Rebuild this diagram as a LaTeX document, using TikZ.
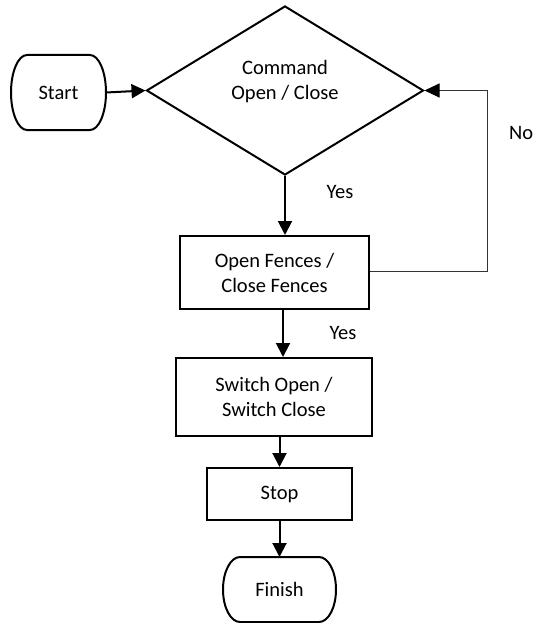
\documentclass[tikz,border=0pt]{standalone}
\usepackage{fontspec}
\setmainfont{Carlito}
\usetikzlibrary{arrows.meta,shapes.geometric}
\newcommand\drawterm[3]{%
  \draw[line width=2pt] ([xshift=#2]#1.north west) -- ([xshift=-#2]#1.north east)
    arc[start angle=90,end angle=-90,x radius=#2,y radius=#3]
    -- ([xshift=#2]#1.south west)
    arc[start angle=270,end angle=90,x radius=#2,y radius=#3] -- cycle;}
\begin{document}
\begin{tikzpicture}[x=1pt,y=-1pt,
  font=\fontsize{20.5pt}{25pt}\selectfont,
  boxnode/.style={draw, line width=2pt, rectangle, align=center, inner sep=0pt},
  decnode/.style={draw, line width=2pt, diamond, inner sep=0pt},
  termnode/.style={align=center, inner sep=0pt, outer sep=0pt},
  txt/.style={align=center, inner sep=0pt},
  arr/.style={line width=2pt, -{Triangle[length=14pt,width=14pt]}},
  thinarr/.style={line width=1pt, draw=black!80, -{Triangle[length=15pt,width=14pt,black]}},
  lbl/.style={inner sep=0pt}]
\useasboundingbox (0,0) rectangle (533,623);

% nodes
\node[termnode, minimum width=95pt, minimum height=75pt] (start) at (58.5,92.5) {Start};
\drawterm{start}{16pt}{37.5pt}
\node[decnode, minimum width=277pt, minimum height=169pt] (dec) at (285,90.5) {};
\node[txt] (dectext) at (285,81.5) {Command\\Open / Close};
\node[boxnode, minimum width=189pt, minimum height=73pt] (box1) at (274.5,272.5) {Open Fences /\\Close Fences};
\node[boxnode, minimum width=196pt, minimum height=78pt] (box2) at (274,397) {Switch Open /\\Switch Close};
\node[boxnode, minimum width=145pt, minimum height=52pt] (stop) at (279.5,494) {Stop};
\node[termnode, minimum width=113pt, minimum height=65pt] (finish) at (279.5,589.5) {Finish};
\drawterm{finish}{17pt}{32.5pt}

% connectors
\draw[arr] (start.east) -- (dec.west);
\draw[arr] (dec.south) -- (dec.south |- box1.north);
\draw[arr] ([xshift=8.5pt]box1.south) -- ([xshift=8.5pt]box1.south |- box2.north);
\draw[arr] (stop.north |- box2.south) -- (stop.north);
\draw[arr] (stop.south) -- (finish.north);
\coordinate (loopc) at (487,271);
\draw[thinarr] (box1.east |- loopc) -- (loopc) |- (dec.east);

% labels
\node[lbl] (yes1) at (340,192) {Yes};
\node[lbl] (yes2) at (343,333) {Yes};
\node[lbl, anchor=west] (no) at (509,133) {No};
\end{tikzpicture}
\end{document}
